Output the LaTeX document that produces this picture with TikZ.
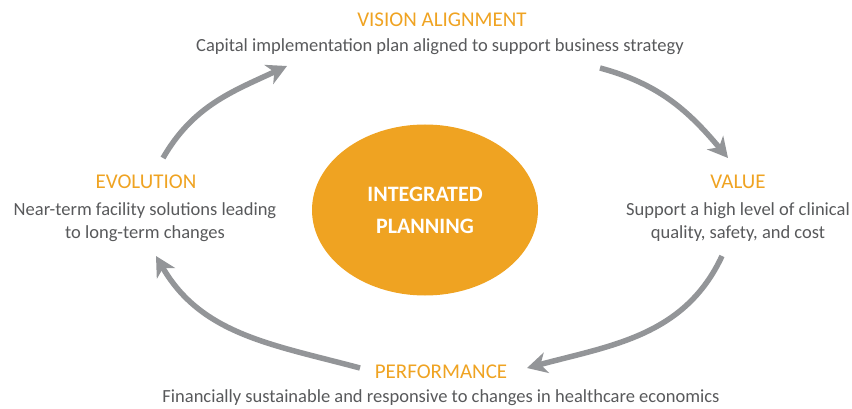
\documentclass[tikz,border=0pt]{standalone}
\usepackage{fontspec}
\setmainfont{Carlito}
\usepackage{xcolor}
\usepackage{tikz}
\usetikzlibrary{
  positioning,
  arrows.meta,
  shapes.geometric
}

\definecolor{planorange}{HTML}{EFA322}
\definecolor{textgray}{HTML}{58595B}
\definecolor{arrowgray}{HTML}{939598}

\begin{document}
\begin{tikzpicture}[
  x=1pt, y=-1pt,
  core/.style={
    ellipse,
    fill=planorange,
    minimum width=226pt,
    minimum height=171pt,
    align=center,
    text=white,
    font=\bfseries\fontsize{22}{32}\selectfont
  },
  phase/.style={
    text=planorange,
    font=\fontsize{21}{24}\selectfont
  },
  desc/.style={
    text=textgray,
    align=center,
    font=\fontsize{18.5}{23}\selectfont
  },
  cycle/.style={
    -{Stealth[length=20pt,width=21pt,inset=6pt]},
    line width=5.5pt,
    draw=arrowgray
  }
]

\useasboundingbox (0,0) rectangle (852,409);

% Central ellipse
\node[core] (plan) at (425,210) {INTEGRATED\\PLANNING};

% Phases around the cycle
\node[phase] (vision) at (442,20) {VISION ALIGNMENT};
\node[desc] (visiontxt) at (440,47) {Capital implementation plan aligned to support business strategy};

\node[phase] (value) at (738,182) {VALUE};
\node[desc] (valuetxt) at (738,222) {Support a high level of clinical\\quality, safety, and cost};

\node[phase] (perf) at (441,372) {PERFORMANCE};
\node[desc] (perftxt) at (441,398) {Financially sustainable and responsive to changes in healthcare economics};

\node[phase] (evo) at (146,182) {EVOLUTION};
\node[desc] (evotxt) at (145,222) {Near-term facility solutions leading\\to long-term changes};

% Arrow end points
\coordinate (a1s) at (163,158);
\coordinate (a1e) at (287,66);
\coordinate (a2s) at (600,68);
\coordinate (a2e) at (728,158);
\coordinate (a3s) at (722,256);
\coordinate (a3e) at (527,368);
\coordinate (a4s) at (360,368);
\coordinate (a4e) at (156,256);

% Cycle arrows
\draw[cycle] (a1s) to[out=60,in=-155] (a1e);
\draw[cycle] (a2s) to[out=-15,in=130] (a2e);
\draw[cycle] (a3s) to[out=-115,in=15] (a3e);
\draw[cycle] (a4s) to[out=165,in=-60] (a4e);

\end{tikzpicture}
\end{document}
